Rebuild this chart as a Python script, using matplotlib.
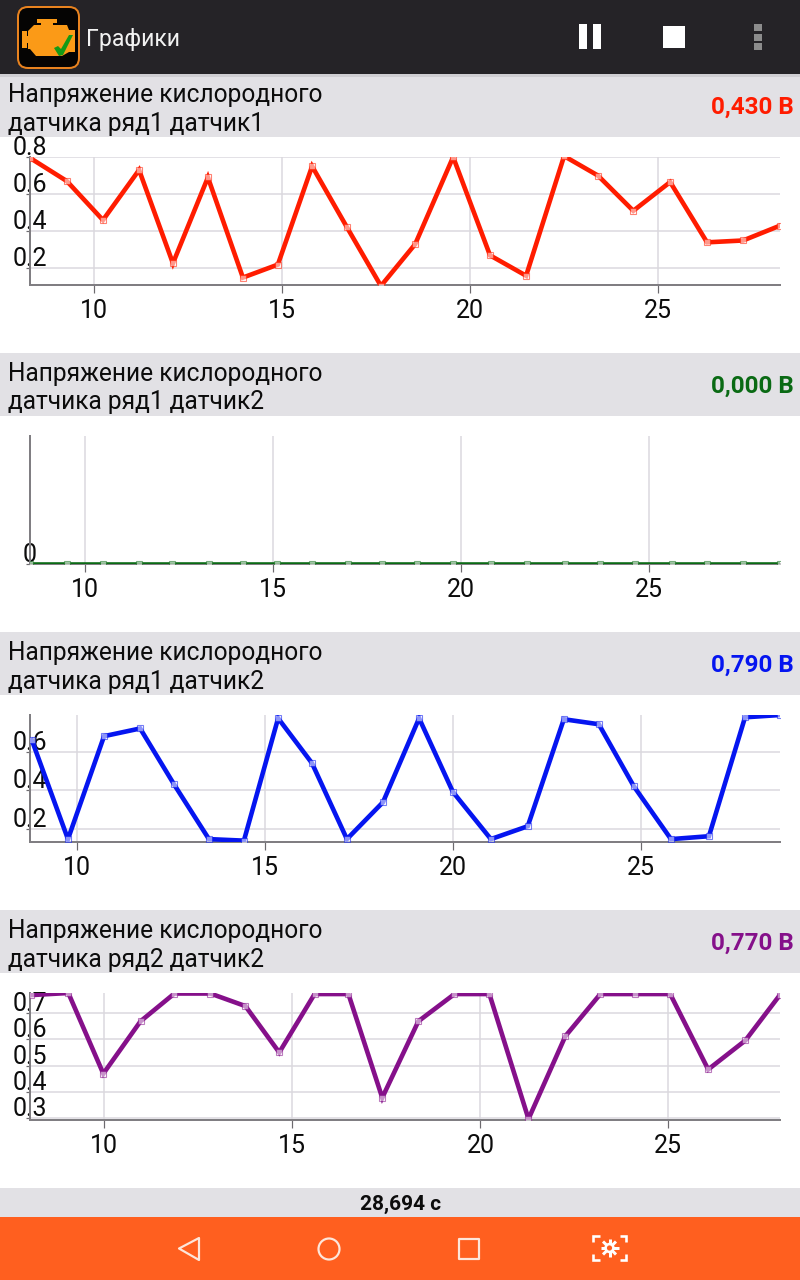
import matplotlib
matplotlib.use("Agg")
import matplotlib.pyplot as plt
from matplotlib.patches import Rectangle, FancyBboxPatch, Polygon, Circle
from matplotlib.transforms import ScaledTranslation

plt.rcParams["font.family"] = ["Roboto", "DejaVu Sans"]

W, H = 800, 1280
DPI = 100

# Sensor traces: time in seconds, voltage in volts
t_b1s1 = [8.30, 9.28, 10.24, 11.20, 12.10, 13.03, 13.96, 14.89, 15.80, 16.73, 17.63,
          18.54, 19.55, 20.53, 21.49, 22.50, 23.40, 24.34, 25.32, 26.30, 27.26, 28.24]
v_b1s1 = [0.795, 0.67, 0.46, 0.73, 0.227, 0.69, 0.15, 0.22, 0.75, 0.42, 0.105,
          0.33, 0.80, 0.27, 0.16, 0.805, 0.70, 0.51, 0.665, 0.34, 0.35, 0.43]

t_b1s2 = [8.54, 9.52, 10.48, 11.44, 12.31, 13.30, 14.20, 15.11, 16.04, 16.99, 17.90,
          18.83, 19.79, 20.80, 21.76, 22.77, 23.70, 24.63, 25.61, 26.54, 27.50, 28.48]
v_b1s2 = [0.0] * len(t_b1s2)

t_b1s2b = [8.80, 9.76, 10.72, 11.68, 12.58, 13.51, 14.44, 15.35, 16.25, 17.18, 18.14,
           19.10, 20.00, 21.01, 21.99, 22.95, 23.88, 24.81, 25.80, 26.81, 27.77, 28.70]
v_b1s2b = [0.659, 0.145, 0.68, 0.72, 0.43, 0.145, 0.137, 0.773, 0.54, 0.145, 0.337,
           0.773, 0.39, 0.145, 0.212, 0.768, 0.742, 0.42, 0.145, 0.16, 0.778, 0.79]

t_b2s2 = [8.05, 9.04, 9.97, 10.96, 11.86, 12.82, 13.75, 14.65, 15.59, 16.49, 17.39,
          18.35, 19.31, 20.24, 21.28, 22.26, 23.19, 24.12, 25.05, 26.06, 27.05, 27.97]
v_b2s2 = [0.769, 0.777, 0.469, 0.669, 0.775, 0.775, 0.727, 0.55, 0.773, 0.773, 0.377,
          0.669, 0.773, 0.773, 0.296, 0.612, 0.773, 0.773, 0.773, 0.485, 0.596, 0.77]

x_ticks = [10, 15, 20, 25]
y_ticks_1 = [0.2, 0.4, 0.6, 0.8]
y_ticks_2 = [0]
y_ticks_3 = [0.2, 0.4, 0.6]
y_ticks_4 = [0.3, 0.4, 0.5, 0.6, 0.7]

title_top = "Напряжение кислородного"
titles_bottom = ["датчика ряд1 датчик1", "датчика ряд1 датчик2",
                 "датчика ряд1 датчик2", "датчика ряд2 датчик2"]
readouts = ["0,430 В", "0,000 В", "0,790 В", "0,770 В"]
colors = ["#ff1c00", "#0a6a14", "#0515f0", "#85108a"]
bar_tops = [74, 353, 632, 910]

# Panel layout: x range in seconds, y range in volts, top and bottom pixel rows
panels = [
    dict(t=t_b1s1, v=v_b1s1, ticks=y_ticks_1, xlim=(8.30, 28.24), ylim=(0.11, 0.80), top=157, bottom=285),
    dict(t=t_b1s2, v=v_b1s2, ticks=y_ticks_2, xlim=(8.54, 28.48), ylim=(0.0, 1.0), top=436, bottom=564),
    dict(t=t_b1s2b, v=v_b1s2b, ticks=y_ticks_3, xlim=(8.75, 28.70), ylim=(0.13, 0.79), top=715, bottom=842),
    dict(t=t_b2s2, v=v_b2s2, ticks=y_ticks_4, xlim=(8.02, 27.97), ylim=(0.292, 0.777), top=993, bottom=1120),
]

AX_LEFT, AX_RIGHT = 30, 780
px = 72 / DPI  # points per pixel

fig = plt.figure(figsize=(W / DPI, H / DPI), dpi=DPI, facecolor="white")

# Application chrome, laid out in pixel rows
ui = fig.add_axes([0, 0, 1, 1], zorder=0)
ui.set_xlim(0, W)
ui.set_ylim(H, 0)
ui.axis("off")

DARK = "#252327"
BAND = "#e2e1e5"
ORANGE = "#ff5f1f"
NAV = "#fde6da"

ui.add_patch(Rectangle((0, 0), W, 74, fc=DARK, ec="none"))
ui.add_patch(Rectangle((0, 74), W, 3, fc="#cfced2", ec="none", zorder=2))
for i, top in enumerate(bar_tops):
    ui.add_patch(Rectangle((0, top), W, 63, fc=BAND, ec="none"))
    ui.text(7.5, top + 21, title_top, fontsize=17.65, color="#0c0c0c", ha="left", va="center", zorder=3)
    ui.text(7.5, top + 49.5, titles_bottom[i], fontsize=17.65, color="#0c0c0c", ha="left", va="center", zorder=3)
    ui.text(793.5, top + 33, readouts[i], fontsize=17.5, color=colors[i], fontweight="bold",
            ha="right", va="center", zorder=3)
ui.add_patch(Rectangle((0, 1188), W, 29, fc=BAND, ec="none"))
ui.add_patch(Rectangle((0, 1217), W, 63, fc=ORANGE, ec="none"))
ui.text(400.5, 1204, "28,694 с", fontsize=15, fontweight="bold", color="#0c0c0c", ha="center", va="center")
ui.text(86, 39.5, "Графики", fontsize=16.6, color="#f2f2f2", ha="left", va="center")

# App badge with engine symbol and check mark
ui.add_patch(FancyBboxPatch((24, 13), 49, 49, boxstyle="round,pad=6,rounding_size=10",
                            fc="#050403", ec="#e9831f", lw=2 * px))
engine = [(37, 19), (57, 19), (57, 23), (53, 23), (53, 25), (67, 25), (69, 30), (75, 30), (75, 52),
          (69, 52), (62, 56), (36, 56), (30, 49), (28, 49), (28, 43), (27, 43), (27, 48), (22, 48),
          (22, 31), (27, 31), (27, 36), (28, 36), (28, 31), (34, 25), (41, 25), (41, 23), (37, 23)]
ui.add_patch(Polygon(engine, closed=True, fc="#fb9a17", ec="none"))
check = [(54, 48), (58, 46), (61, 49), (69, 35), (73, 35), (63, 55), (59, 56)]
ui.add_patch(Polygon(check, closed=True, fc="#149a16", ec="none"))

# Toolbar actions
ui.add_patch(Rectangle((579, 24), 8, 25, fc="white", ec="none"))
ui.add_patch(Rectangle((593, 24), 8, 25, fc="white", ec="none"))
ui.add_patch(Rectangle((663, 26), 22, 22, fc="white", ec="none"))
for y in (24, 33.5, 43):
    ui.add_patch(Rectangle((754, y), 8, 7, fc="#8c8c8c", ec="none"))

# Navigation bar icons
ui.add_patch(Polygon([(179, 1248.5), (199, 1238), (199, 1260)], closed=True, fc="none", ec=NAV,
                     lw=2.2 * px, joinstyle="round"))
ui.add_patch(Circle((329, 1249), 10.5, fc="none", ec=NAV, lw=2.2 * px))
ui.add_patch(Rectangle((459, 1239), 20, 20, fc="none", ec=NAV, lw=2.2 * px, joinstyle="round"))
for sx, sy in ((-1, -1), (1, -1), (-1, 1), (1, 1)):
    ui.plot([609.5 + sx * 16.5, 609.5 + sx * 16.5, 609.5 + sx * 10],
            [1248 + sy * 6, 1248 + sy * 12, 1248 + sy * 12], color="white", lw=2.6 * px,
            solid_capstyle="butt", solid_joinstyle="miter")
for dx, dy in ((9, 0), (0, 9), (6.5, 6.5), (6.5, -6.5)):
    ui.plot([609.5 - dx, 609.5 + dx], [1248 - dy, 1248 + dy], color="white", lw=3 * px,
            solid_capstyle="butt")
ui.add_patch(Circle((609.5, 1248), 5.2, fc="white", ec="none", zorder=3))
ui.add_patch(Circle((609.5, 1248), 2.6, fc=ORANGE, ec="none", zorder=4))

# Voltage panels
label_lift = ScaledTranslation(0, 2 / DPI, fig.dpi_scale_trans)
for panel, color in zip(panels, colors):
    ax = fig.add_axes([AX_LEFT / W, 1 - panel["bottom"] / H,
                       (AX_RIGHT - AX_LEFT) / W, (panel["bottom"] - panel["top"]) / H], zorder=2)
    ax.patch.set_visible(False)
    ax.set_xlim(*panel["xlim"])
    ax.set_ylim(*panel["ylim"])
    ax.set_xticks(x_ticks)
    ax.set_yticks(panel["ticks"])
    ax.set_yticklabels([str(v) for v in panel["ticks"]])
    ax.grid(True, color="#dad8de", lw=1.5 * px, zorder=1)
    ax.set_axisbelow(True)
    for side in ("top", "right"):
        ax.spines[side].set_visible(False)
    for side in ("left", "bottom"):
        ax.spines[side].set_color("#807e82")
        ax.spines[side].set_linewidth(2 * px)
    ax.tick_params(axis="x", length=8 * px, width=1.2 * px, color="#6c6a6e", labelsize=18,
                   labelcolor="#0c0c0c", pad=4.5)
    ax.tick_params(axis="y", length=4 * px, width=1.2 * px, color="#6c6a6e", labelsize=18,
                   labelcolor="#0c0c0c", pad=-4 * px)
    for label in ax.get_yticklabels():
        label.set_ha("center")
        label.set_va("baseline")
        label.set_transform(label.get_transform() + label_lift)
        label.set_zorder(6)
    ax.plot(panel["t"], panel["v"], color=color, lw=4.6 * px, solid_joinstyle="miter", zorder=3)
    ax.plot(panel["t"], panel["v"], ls="none", marker="s", ms=6.5 * px, mfc=(1, 1, 1, 0.08),
            mec=color, mew=1.1 * px, alpha=0.55, zorder=4)

fig.savefig("out.png", dpi=DPI, facecolor="white")
